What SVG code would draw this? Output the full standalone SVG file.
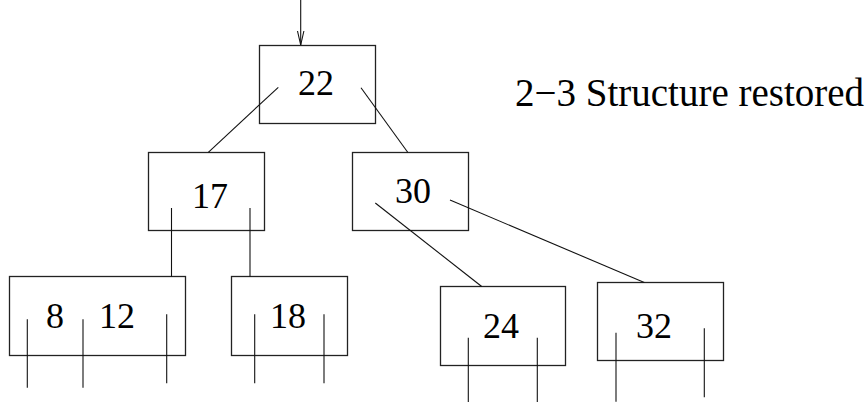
<svg xmlns="http://www.w3.org/2000/svg" width="868" height="403" viewBox="0 0 868 403">
<style>
.box{fill:#fff;stroke:#222;stroke-width:1.3}
.ln{stroke:#111;stroke-width:1.1;fill:none}
.t{font-size:36px;fill:#000;text-anchor:middle}
.lbl{font-size:39px;fill:#000}
</style>
<defs>
<marker id="ah" markerWidth="16" markerHeight="8" refX="15" refY="4" orient="auto" markerUnits="userSpaceOnUse" viewBox="0 0 16 8">
<path d="M1,0.8 L15,4 L1,7.2" fill="none" stroke="#111" stroke-width="1.1"/>
</marker>
</defs>
<rect width="868" height="403" fill="#fff"/>
<g font-family="Liberation Serif">
<g id="n22"><rect class="box" x="259.5" y="45.5" width="116" height="78"/><text class="t" x="316" y="95">22</text></g>
<g id="n17"><rect class="box" x="148.5" y="152.5" width="116" height="78"/><text class="t" x="210" y="208">17</text></g>
<g id="n30"><rect class="box" x="352.5" y="152.5" width="116" height="78"/><text class="t" x="413" y="203">30</text></g>
<g id="n8_12"><rect class="box" x="9.5" y="276.5" width="176" height="79"/><text class="t" x="55" y="328">8</text><text class="t" x="117" y="328">12</text></g>
<g id="n18"><rect class="box" x="231.5" y="276.5" width="116" height="79"/><text class="t" x="288" y="328">18</text></g>
<g id="n24"><rect class="box" x="440.5" y="286.5" width="125" height="79"/><text class="t" x="501" y="338">24</text></g>
<g id="n32"><rect class="box" x="597.5" y="282.5" width="126" height="78"/><text class="t" x="654" y="338">32</text></g>
<g id="label"><text class="lbl" x="515" y="106">2−3 Structure restored</text></g>
</g>
<g id="connectors">
<line class="ln" x1="300.7" y1="0" x2="300.7" y2="45" marker-end="url(#ah)"/>
<line class="ln" x1="278.3" y1="87.3" x2="208.3" y2="152.3"/>
<line class="ln" x1="361" y1="87.7" x2="407.7" y2="152.3"/>
<line class="ln" x1="171.5" y1="208" x2="171.5" y2="276.7"/>
<line class="ln" x1="250" y1="208" x2="250" y2="276.7"/>
<line class="ln" x1="375.3" y1="203" x2="481.7" y2="286.5"/>
<line class="ln" x1="450" y1="200" x2="644.3" y2="282.5"/>
<line class="ln" x1="27.3" y1="319.3" x2="27.3" y2="387.7"/>
<line class="ln" x1="83" y1="319.3" x2="83" y2="387.7"/>
<line class="ln" x1="166.7" y1="314.3" x2="166.7" y2="383.3"/>
<line class="ln" x1="254.7" y1="314.3" x2="254.7" y2="383.3"/>
<line class="ln" x1="324" y1="314.3" x2="324" y2="383.3"/>
<line class="ln" x1="468.3" y1="337.7" x2="468.3" y2="402"/>
<line class="ln" x1="537.3" y1="337.7" x2="537.3" y2="402"/>
<line class="ln" x1="616" y1="332.7" x2="616" y2="401.7"/>
<line class="ln" x1="704.3" y1="328.3" x2="704.3" y2="397.3"/>
</g>
</svg>
